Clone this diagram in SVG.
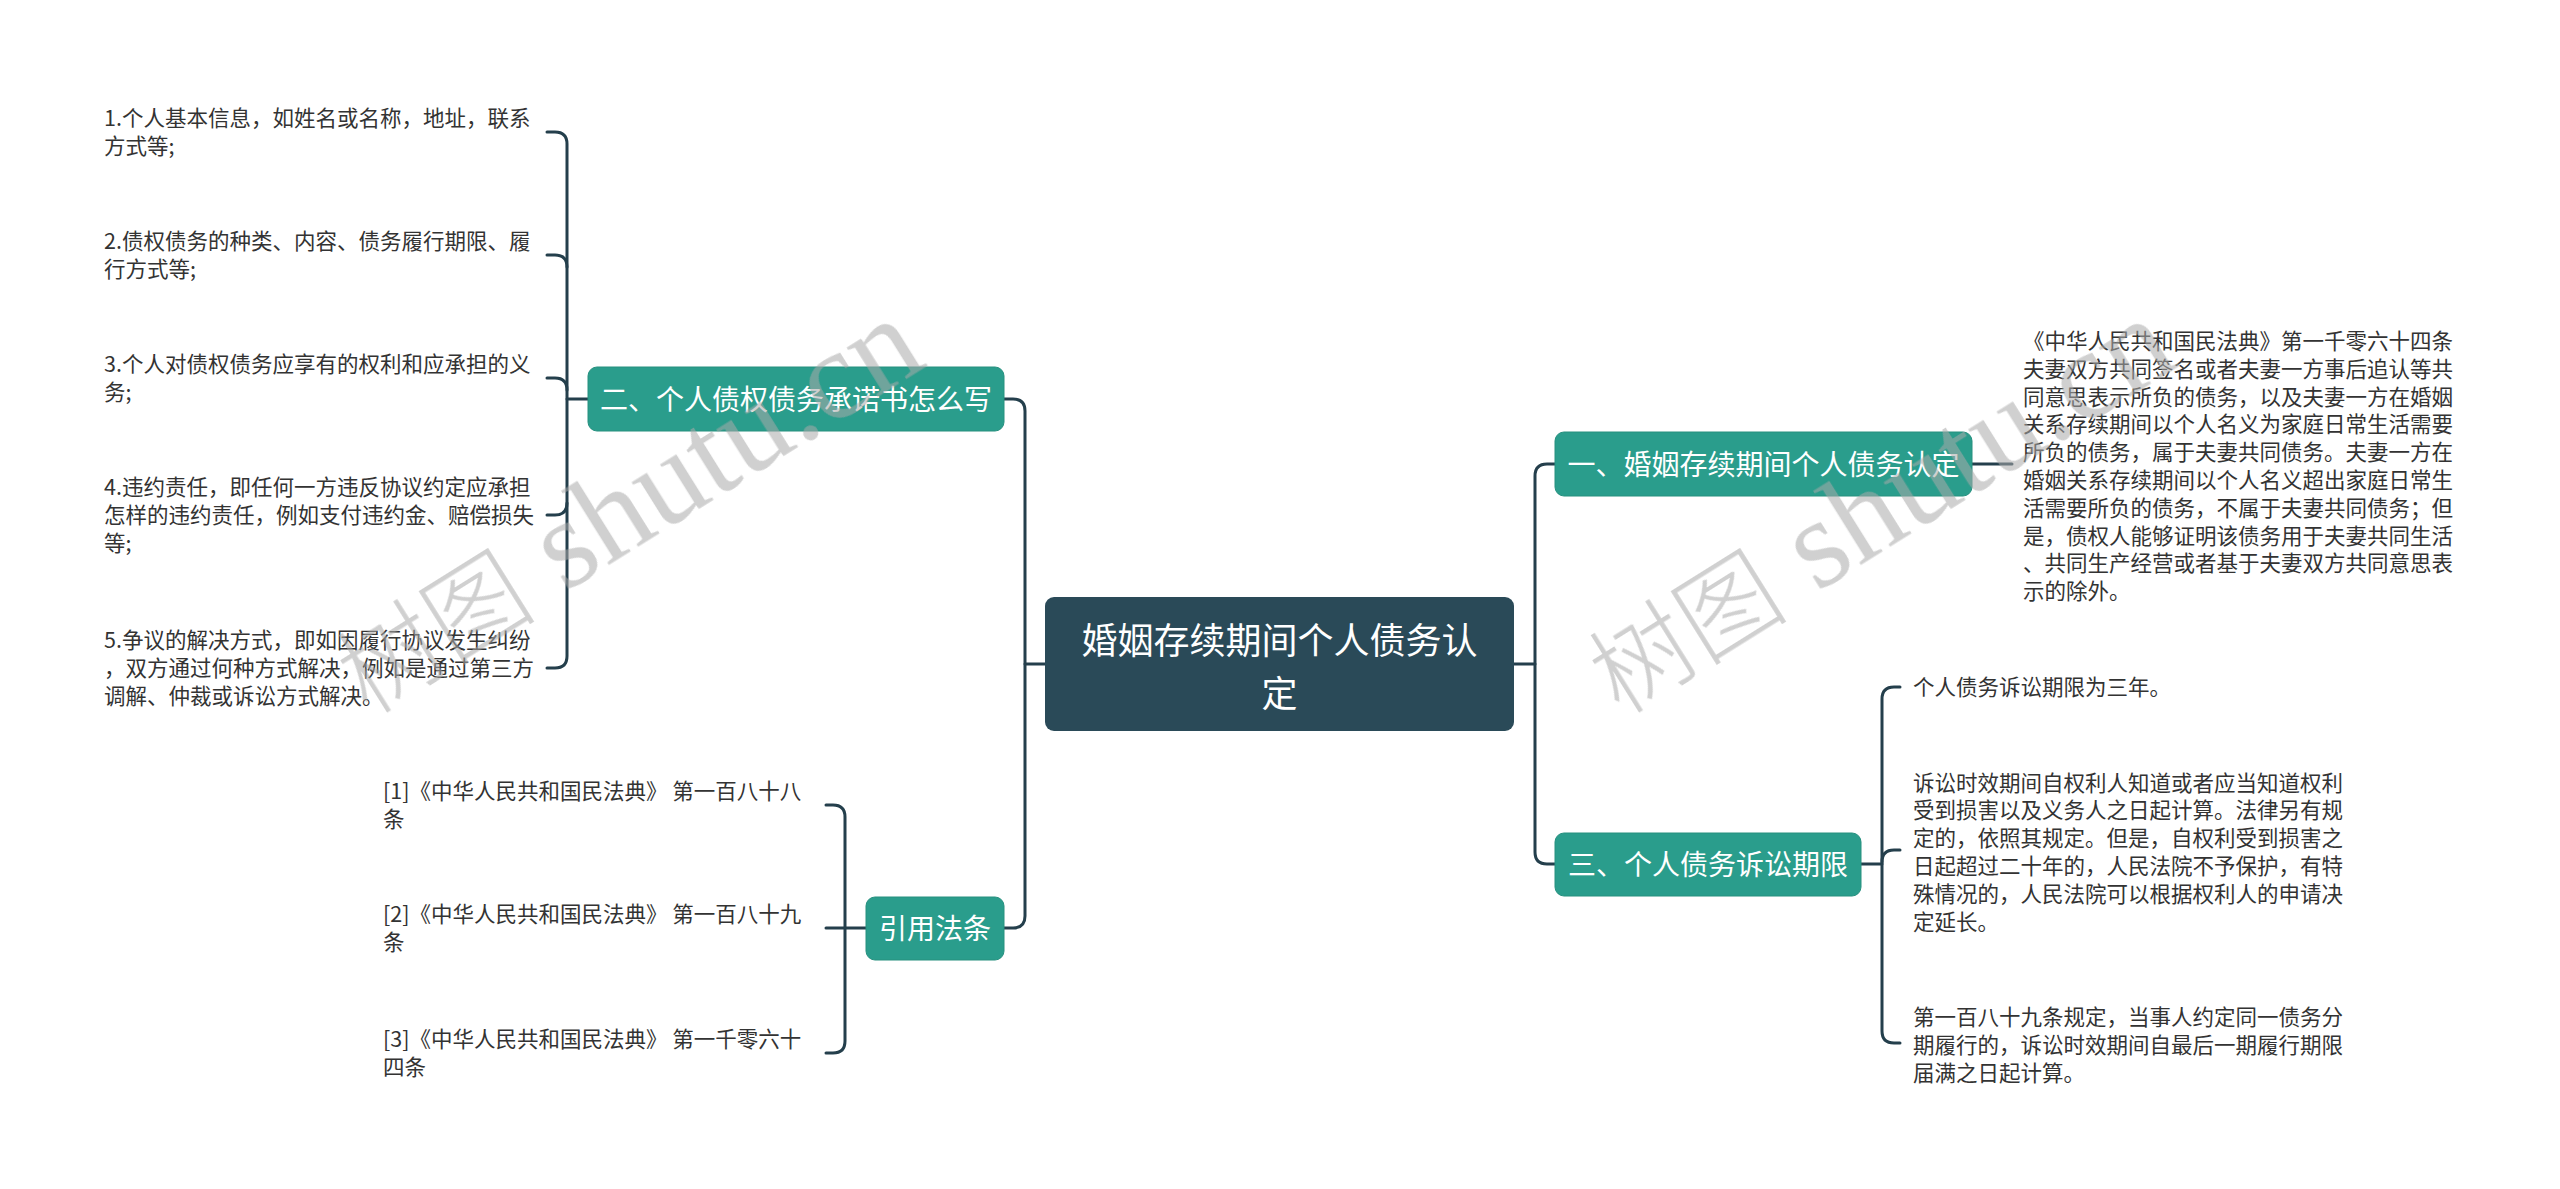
<svg xmlns="http://www.w3.org/2000/svg" width="2560" height="1189" viewBox="0 0 2560 1189">
<style>
.bg{fill:#ffffff}
.conn{fill:none;stroke:#243f4c;stroke-width:3;stroke-linecap:round;stroke-linejoin:round}
.root{fill:#2a4a58}
.main{fill:#2a9d8c;stroke:#26907f;stroke-width:1}
.rt{font-family:"Noto Sans CJK SC","Microsoft YaHei",sans-serif;font-size:36px;fill:#ffffff;text-anchor:middle}
.mt{font-family:"Noto Sans CJK SC","Microsoft YaHei",sans-serif;font-size:28px;fill:#ffffff;text-anchor:middle}
.lt{font-family:"Noto Sans CJK SC","Microsoft YaHei",sans-serif;font-size:21.5px;fill:#333333}
.wm{opacity:0.55;fill:#aaaaaa}
.wmc{font-family:"Noto Sans CJK SC",sans-serif;font-size:100px;font-weight:300}
.wml{font-family:"Liberation Serif",serif;font-size:128px}
</style>
<rect class="bg" x="0" y="0" width="2560" height="1189"/>
<g id="connectors">
  <path class="conn" d="M1514,664 H1535"/>
  <path class="conn" d="M1555,464 H1547 Q1535,464 1535,476 V852 Q1535,864 1547,864 H1555"/>
  <path class="conn" d="M1045,664 H1025"/>
  <path class="conn" d="M1004,399 H1013 Q1025,399 1025,411 V916 Q1025,928 1013,928 H1004"/>
  <path class="conn" d="M588,399 H567"/>
  <path class="conn" d="M547,132 H555 Q567,132 567,144 V656 Q567,668 555,668 H547"/>
  <path class="conn" d="M547,255 H555 Q567,255 567,267"/>
  <path class="conn" d="M547,378 H555 Q567,378 567,390"/>
  <path class="conn" d="M547,515 H555 Q567,515 567,503"/>
  <path class="conn" d="M866,928 H826"/>
  <path class="conn" d="M826,805 H833 Q845,805 845,817 V1041 Q845,1053 833,1053 H826"/>
  <path class="conn" d="M1972,464 H2012"/>
  <path class="conn" d="M1861,864 H1882"/>
  <path class="conn" d="M1900,687 H1894 Q1882,687 1882,699 V1031 Q1882,1043 1894,1043 H1900"/>
  <path class="conn" d="M1882,862 Q1882,850 1894,850 H1900"/>
</g>
<g id="root">
  <rect class="root" x="1045" y="597" width="469" height="134" rx="9"/>
  <text class="rt"><tspan x="1279.5" y="653.5">婚姻存续期间个人债务认</tspan><tspan x="1279.5" y="706.5">定</tspan></text>
</g>
<g id="node-1">
  <rect class="main" x="1555" y="432" width="417" height="64" rx="9"/>
  <text class="mt" x="1763.5" y="474.5">一、婚姻存续期间个人债务认定</text>
</g>
<g id="node-1-detail">
  <text class="lt">
    <tspan x="2023" y="349">《中华人民共和国民法典》第一千零六十四条</tspan>
    <tspan x="2023" y="376.8">夫妻双方共同签名或者夫妻一方事后追认等共</tspan>
    <tspan x="2023" y="404.6">同意思表示所负的债务，以及夫妻一方在婚姻</tspan>
    <tspan x="2023" y="432.4">关系存续期间以个人名义为家庭日常生活需要</tspan>
    <tspan x="2023" y="460.2">所负的债务，属于夫妻共同债务。夫妻一方在</tspan>
    <tspan x="2023" y="488">婚姻关系存续期间以个人名义超出家庭日常生</tspan>
    <tspan x="2023" y="515.8">活需要所负的债务，不属于夫妻共同债务；但</tspan>
    <tspan x="2023" y="543.6">是，债权人能够证明该债务用于夫妻共同生活</tspan>
    <tspan x="2023" y="571.4">、共同生产经营或者基于夫妻双方共同意思表</tspan>
    <tspan x="2023" y="599.2">示的除外。</tspan>
  </text>
</g>
<g id="node-2">
  <rect class="main" x="588" y="367" width="416" height="64" rx="9"/>
  <text class="mt" x="796" y="409.5">二、个人债权债务承诺书怎么写</text>
</g>
<g id="leaf-2-1">
  <text class="lt"><tspan x="104" y="126">1.个人基本信息，如姓名或名称，地址，联系</tspan><tspan x="104" y="154">方式等;</tspan></text>
</g>
<g id="leaf-2-2">
  <text class="lt"><tspan x="104" y="249">2.债权债务的种类、内容、债务履行期限、履</tspan><tspan x="104" y="277">行方式等;</tspan></text>
</g>
<g id="leaf-2-3">
  <text class="lt"><tspan x="104" y="372">3.个人对债权债务应享有的权利和应承担的义</tspan><tspan x="104" y="400">务;</tspan></text>
</g>
<g id="leaf-2-4">
  <text class="lt"><tspan x="104" y="495">4.违约责任，即任何一方违反协议约定应承担</tspan><tspan x="104" y="523">怎样的违约责任，例如支付违约金、赔偿损失</tspan><tspan x="104" y="551">等;</tspan></text>
</g>
<g id="leaf-2-5">
  <text class="lt"><tspan x="104" y="648">5.争议的解决方式，即如因履行协议发生纠纷</tspan><tspan x="104" y="676">，双方通过何种方式解决，例如是通过第三方</tspan><tspan x="104" y="704">调解、仲裁或诉讼方式解决。</tspan></text>
</g>
<g id="node-3">
  <rect class="main" x="1555" y="833" width="306" height="63" rx="9"/>
  <text class="mt" x="1708" y="875">三、个人债务诉讼期限</text>
</g>
<g id="leaf-3-1">
  <text class="lt" x="1913" y="695">个人债务诉讼期限为三年。</text>
</g>
<g id="leaf-3-2">
  <text class="lt">
    <tspan x="1913" y="790.5">诉讼时效期间自权利人知道或者应当知道权利</tspan>
    <tspan x="1913" y="818.3">受到损害以及义务人之日起计算。法律另有规</tspan>
    <tspan x="1913" y="846.1">定的，依照其规定。但是，自权利受到损害之</tspan>
    <tspan x="1913" y="873.9">日起超过二十年的，人民法院不予保护，有特</tspan>
    <tspan x="1913" y="901.7">殊情况的，人民法院可以根据权利人的申请决</tspan>
    <tspan x="1913" y="929.5">定延长。</tspan>
  </text>
</g>
<g id="leaf-3-3">
  <text class="lt"><tspan x="1913" y="1025">第一百八十九条规定，当事人约定同一债务分</tspan><tspan x="1913" y="1053">期履行的，诉讼时效期间自最后一期履行期限</tspan><tspan x="1913" y="1081">届满之日起计算。</tspan></text>
</g>
<g id="node-4">
  <rect class="main" x="866" y="897" width="138" height="63" rx="9"/>
  <text class="mt" x="935" y="939">引用法条</text>
</g>
<g id="ref-1">
  <text class="lt"><tspan x="383" y="799">[1]《中华人民共和国民法典》 第一百八十八</tspan><tspan x="383" y="827">条</tspan></text>
</g>
<g id="ref-2">
  <text class="lt"><tspan x="383" y="922">[2]《中华人民共和国民法典》 第一百八十九</tspan><tspan x="383" y="950">条</tspan></text>
</g>
<g id="ref-3">
  <text class="lt"><tspan x="383" y="1047">[3]《中华人民共和国民法典》 第一千零六十</tspan><tspan x="383" y="1075">四条</tspan></text>
</g>
<g id="watermark" class="wm">
  <text transform="translate(368,716) rotate(-32)"><tspan class="wmc">树图</tspan><tspan class="wml"> shutu.cn</tspan></text>
  <text transform="translate(1620,716) rotate(-32)"><tspan class="wmc">树图</tspan><tspan class="wml"> shutu.cn</tspan></text>
</g>
</svg>
